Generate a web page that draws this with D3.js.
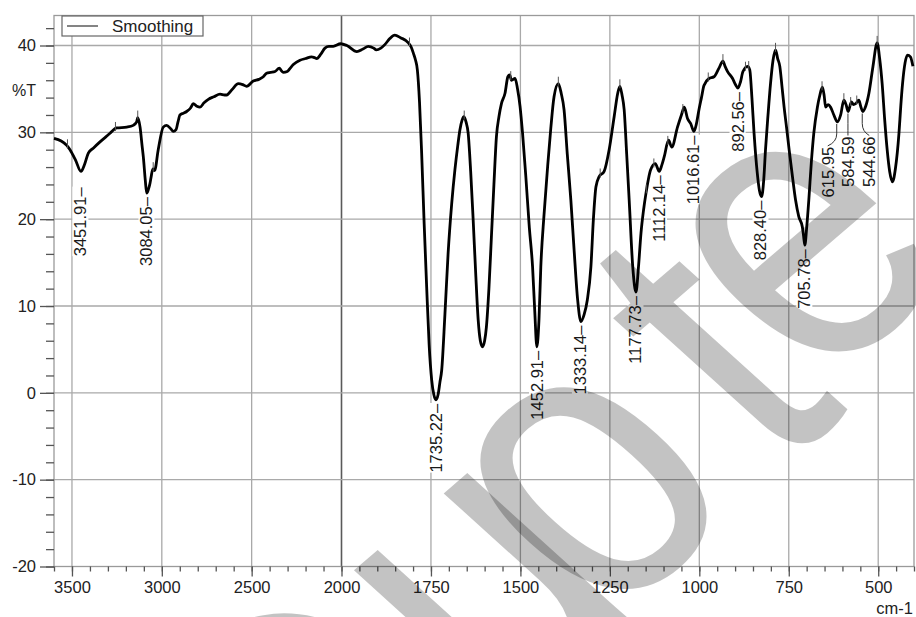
<!DOCTYPE html>
<html>
<head>
<meta charset="utf-8">
<script src="https://cdn.jsdelivr.net/npm/d3@7"></script>
<style>
  html, body { margin: 0; padding: 0; background: #fff; }
  svg { display: block; font-family: "Liberation Sans", Arial, sans-serif; }
</style>
</head>
<body>
<div id="chart"></div>
<script>
// spectrum (cm-1 -> %T)
const wavenumbers = [3600, 3560, 3529, 3511, 3480, 3450, 3430, 3409, 3380, 3344, 3310, 3288, 3251, 3195, 3159, 3140, 3134, 3121, 3110, 3103, 3092, 3084, 3075, 3066, 3060, 3050, 3040, 3020, 2992, 2973, 2950, 2936, 2921, 2910, 2899, 2880, 2862, 2840, 2825, 2805, 2788, 2765, 2741, 2710, 2676, 2650, 2639, 2610, 2574, 2550, 2528, 2491, 2460, 2435, 2417, 2395, 2370, 2346, 2335, 2324, 2302, 2285, 2268, 2231, 2200, 2166, 2150, 2138, 2115, 2092, 2070, 2046, 2005, 1985, 1957, 1940, 1925, 1910, 1903, 1890, 1879, 1865, 1851, 1835, 1813, 1805, 1799, 1793, 1788, 1782, 1776, 1769, 1762, 1755, 1748, 1742, 1736, 1730, 1725, 1720, 1711, 1702, 1692, 1683, 1675, 1669, 1663, 1658, 1652, 1646, 1639, 1632, 1625, 1618, 1612, 1606, 1600, 1595, 1588, 1581, 1574, 1567, 1560, 1553, 1543, 1535, 1530, 1525, 1515, 1508, 1501, 1494, 1485, 1475, 1466, 1460, 1454, 1448, 1443, 1434, 1424, 1415, 1406, 1394, 1386, 1378, 1369, 1359, 1350, 1340, 1331, 1322, 1313, 1303, 1296, 1289, 1280, 1266, 1252, 1238, 1228, 1222, 1216, 1210, 1203, 1196, 1186, 1177, 1170, 1163, 1156, 1149, 1136, 1123, 1112, 1105, 1098, 1086, 1077, 1061, 1050, 1042, 1033, 1024, 1015, 1008, 1001, 994, 987, 973, 959, 945, 934, 928, 921, 907, 899, 892, 885, 878, 865, 859, 853, 847, 838, 832, 826, 820, 815, 808, 801, 794, 787, 781, 775, 769, 763, 756, 749, 740, 731, 722, 712, 709, 705, 700, 694, 687, 680, 670, 663, 656, 651, 647, 640, 633, 624, 614, 605, 596, 590, 584, 575, 569, 563, 554, 549, 543, 535, 526, 515, 503, 496, 489, 482, 475, 468, 460, 452, 442, 437, 432, 425, 418, 410, 403];
const transmittance = [29.3, 29.0, 28.5, 28.0, 26.8, 25.5, 26.3, 27.6, 28.2, 28.9, 29.5, 29.9, 30.5, 30.6, 30.8, 31.2, 31.7, 30.6, 28.5, 27.2, 24.5, 23.0, 23.4, 24.1, 24.8, 25.8, 25.6, 28.0, 30.6, 30.8, 30.4, 30.1, 30.3, 31.2, 32.0, 32.2, 32.4, 32.8, 33.3, 33.0, 32.9, 33.4, 33.8, 34.1, 34.4, 34.3, 34.3, 34.9, 35.6, 35.5, 35.3, 35.9, 36.1, 36.4, 36.8, 36.9, 37.0, 37.4, 37.1, 36.9, 37.0, 37.4, 37.8, 38.3, 38.5, 38.7, 38.6, 38.5, 39.0, 39.7, 39.9, 39.9, 40.2, 40.0, 39.3, 39.6, 39.9, 39.7, 39.5, 39.7, 40.1, 40.8, 41.2, 40.9, 40.3, 39.8, 39.1, 38.3, 37.2, 33.5, 27.6, 19.5, 12.2, 5.5, 1.5, -0.2, -0.8, -0.2, 1.2, 2.6, 9.0, 16.1, 21.8, 25.7, 28.5, 30.3, 31.4, 31.8, 31.2, 29.9, 25.5, 19.9, 13.8, 8.4, 6.0, 5.3, 6.0, 7.6, 12.0, 18.0, 24.0, 29.5, 31.8, 33.3, 34.5, 36.4, 36.6, 36.0, 36.2, 35.0, 33.0, 29.9, 25.0, 19.0, 14.5, 9.5, 5.3, 8.5, 14.5, 20.5, 26.0, 30.5, 34.1, 35.6, 34.5, 32.6, 27.5, 22.2, 16.5, 10.7, 8.2, 9.0, 10.7, 14.5, 20.0, 23.7, 24.9, 25.5, 28.0, 31.8, 34.5, 35.3, 34.3, 32.6, 27.5, 22.2, 14.5, 11.6, 14.5, 18.4, 21.0, 23.0, 25.7, 26.4, 25.5, 26.2, 27.2, 29.1, 28.3, 30.6, 32.0, 32.9, 31.6, 31.0, 30.1, 31.0, 32.6, 34.0, 35.4, 36.2, 36.4, 37.4, 38.2, 37.6, 37.0, 36.2, 35.5, 35.1, 35.8, 37.0, 37.6, 37.2, 34.0, 29.9, 25.3, 23.3, 22.6, 24.5, 28.0, 32.0, 35.6, 38.3, 39.5, 38.5, 37.6, 35.3, 32.9, 30.5, 28.0, 25.0, 22.2, 20.3, 19.1, 18.2, 17.0, 19.0, 22.2, 26.5, 29.9, 32.9, 34.3, 35.2, 34.2, 32.9, 33.2, 32.9, 32.0, 31.2, 32.0, 33.7, 33.2, 32.4, 33.5, 33.2, 33.3, 33.7, 33.0, 32.4, 33.0, 34.5, 37.5, 40.3, 38.5, 35.6, 31.5, 28.0, 25.5, 24.3, 25.8, 29.9, 33.0, 35.6, 38.0, 38.9, 38.7, 37.6];

// labelled minima
const peakLabels = ["3451.91", "3084.05", "1735.22", "1452.91", "1333.14", "1177.73", "1112.14", "1016.61", "892.56", "828.40", "705.78", "615.95", "584.59", "544.66"];
const peakValues = [25.5, 23.0, -0.8, 5.3, 8.2, 11.6, 25.5, 30.1, 35.1, 22.6, 17.0, 31.2, 32.4, 32.4];

// small peak-pick marks on the trace
const markWavenumbers = [3525, 3258, 3134, 3048, 1810, 1657, 1527, 1394, 1277, 1222, 1148, 1127, 1088, 1046, 975, 934, 871, 862, 787, 657, 596, 577, 560, 503];

const xMajorTicks = [3500, 3000, 2500, 2000, 1750, 1500, 1250, 1000, 750, 500];
const yMajorTicks = [-20, -10, 0, 10, 20, 30, 40];
const seriesName = "Smoothing";
const watermarkText = "Quote";

const width = 916, height = 617;
const plot = { left: 54, top: 15.5, right: 914, bottom: 566.5 };

// the axis is compressed above 2000 cm-1
const x = d3.scaleLinear().domain([3600, 2000, 400]).range([plot.left, 341.5, plot.right]);
const y = d3.scaleLinear().domain([-20, 40]).range([plot.bottom, 45.5]);

const xMinor = d3.range(3600, 2000, -100).concat(d3.range(2000, 399, -50));
const yMinor = d3.range(-20, 43, 2);

const svg = d3.select("#chart").append("svg")
  .attr("width", width)
  .attr("height", height);

svg.append("rect").attr("width", width).attr("height", height).attr("fill", "#fff");

// grid
const grid = svg.append("g");
grid.selectAll("line.gx")
  .data(xMajorTicks)
  .join("line")
  .attr("x1", d => x(d)).attr("x2", d => x(d))
  .attr("y1", plot.top).attr("y2", plot.bottom)
  .attr("stroke", d => d === 2000 ? "#5a5a5a" : "#a9a9a9")
  .attr("stroke-width", d => d === 2000 ? 1.6 : 1.3);
grid.selectAll("line.gy")
  .data(yMajorTicks.filter(d => d > -20))
  .join("line")
  .attr("x1", plot.left).attr("x2", plot.right)
  .attr("y1", d => y(d)).attr("y2", d => y(d))
  .attr("stroke", "#a9a9a9")
  .attr("stroke-width", 1.3);

// frame
svg.append("rect")
  .attr("x", plot.left).attr("y", plot.top)
  .attr("width", plot.right - plot.left).attr("height", plot.bottom - plot.top)
  .attr("fill", "none")
  .attr("stroke", "#9a9a9a")
  .attr("stroke-width", 1.3);

// axes
function styleAxis(g) {
  g.select(".domain").remove();
  g.selectAll(".tick line").attr("stroke", "#555").attr("stroke-width", 1.3);
  g.selectAll(".tick text")
    .attr("fill", "#222")
    .attr("font-size", "16.5px")
    .attr("font-family", "Liberation Sans, Arial, sans-serif");
}

svg.append("g")
  .attr("transform", `translate(0,${plot.bottom})`)
  .call(d3.axisBottom(x).tickValues(xMinor).tickSize(5).tickFormat(""))
  .call(styleAxis);
svg.append("g")
  .attr("transform", `translate(0,${plot.bottom})`)
  .call(d3.axisBottom(x).tickValues(xMajorTicks).tickSize(10).tickPadding(5).tickFormat(d3.format("d")))
  .call(styleAxis);

svg.append("g")
  .attr("transform", `translate(${plot.left},0)`)
  .call(d3.axisLeft(y).tickValues(yMinor).tickSize(8).tickFormat(""))
  .call(styleAxis);
svg.append("g")
  .attr("transform", `translate(${plot.left},0)`)
  .call(d3.axisLeft(y).tickValues(yMajorTicks).tickSize(14).tickPadding(4).tickFormat(d => String(d)))
  .call(styleAxis);

svg.append("text")
  .attr("x", 12).attr("y", 96)
  .attr("font-size", "16px").attr("fill", "#222")
  .text("%T");
svg.append("text")
  .attr("x", 913).attr("y", 614)
  .attr("text-anchor", "end")
  .attr("font-size", "16.5px").attr("fill", "#222")
  .text("cm-1");

// spectrum
const spectrum = wavenumbers.map((w, i) => ({ w, t: transmittance[i] }));

svg.append("path")
  .datum(spectrum)
  .attr("fill", "none")
  .attr("stroke", "#000")
  .attr("stroke-width", 2.8)
  .attr("stroke-linejoin", "round")
  .attr("d", d3.line().x(d => x(d.w)).y(d => y(d.t)).curve(d3.curveMonotoneX));

// peak-pick marks
const traceAt = d3.scaleLinear().domain(wavenumbers).range(transmittance);
svg.append("g").selectAll("line")
  .data(markWavenumbers)
  .join("line")
  .attr("x1", d => x(d)).attr("x2", d => x(d))
  .attr("y1", d => y(traceAt(d)) - 7).attr("y2", d => y(traceAt(d)) + 2)
  .attr("stroke", "#555")
  .attr("stroke-width", 1);

// peak labels; the three crowded ones get a bent leader
const leaderBend = { "615.95": -9, "584.59": 0, "544.66": 7 };
const labelGap = { "3451.91": 16 };
const peaks = peakLabels.map((label, i) => ({ label, w: +label, t: peakValues[i] }));

const labelG = svg.append("g");
peaks.forEach(p => {
  const px = x(p.w), py = y(p.t);
  const bend = leaderBend[p.label];
  let lx = px, ly = py + (labelGap[p.label] || 4), txt = p.label + "\u2013";
  if (bend !== undefined) {
    lx = px + bend;
    ly = py + 25;
    txt = p.label;
    labelG.append("path")
      .attr("d", `M${px},${py + 2}V${py + 12}Q${px},${py + 20} ${lx},${ly - 1}`)
      .attr("fill", "none")
      .attr("stroke", "#333")
      .attr("stroke-width", 1);
  }
  const g = labelG.append("g").attr("transform", `translate(${lx},${ly}) rotate(-90)`);
  const bg = g.append("rect").attr("fill", "#fff");
  const t = g.append("text")
    .attr("text-anchor", "end")
    .attr("dy", "0.35em")
    .attr("font-size", "16.5px")
    .attr("fill", "#1a1a1a")
    .text(txt);
  const bb = t.node().getBBox();
  bg.attr("x", bb.x).attr("y", bb.y + 1).attr("width", bb.width).attr("height", bb.height - 2);
});

// legend
const legend = svg.append("g");
legend.append("rect")
  .attr("x", 62).attr("y", 16)
  .attr("width", 141).attr("height", 20)
  .attr("fill", "#fff")
  .attr("stroke", "#666")
  .attr("stroke-width", 1.2);
legend.append("line")
  .attr("x1", 67).attr("x2", 98)
  .attr("y1", 26).attr("y2", 26)
  .attr("stroke", "#333").attr("stroke-width", 1.2);
legend.append("text")
  .attr("x", 112).attr("y", 32)
  .attr("font-size", "17px").attr("fill", "#222")
  .text(seriesName);

// watermark laid over everything, one glyph at a time along a tilted baseline
const wmCentres = [[308, 742], [496, 598], [595, 490], [649, 292], [809, 253]];
const wmLift = [36, 26, 26, 52, 26]; // glyph centre above the baseline, in font units
const wm = svg.append("g")
  .attr("fill", "#000")
  .attr("fill-opacity", 0.235)
  .attr("pointer-events", "none");
watermarkText.split("").forEach((ch, i) => {
  const [cx, cy] = wmCentres[i];
  wm.append("text")
    .attr("transform", `matrix(2.687,-2.305,3.160,2.861,${cx},${cy})`)
    .attr("y", wmLift[i])
    .attr("text-anchor", "middle")
    .attr("font-size", "100px")
    .attr("font-family", "Liberation Sans, Arial, sans-serif")
    .text(ch);
});
</script>
</body>
</html>
